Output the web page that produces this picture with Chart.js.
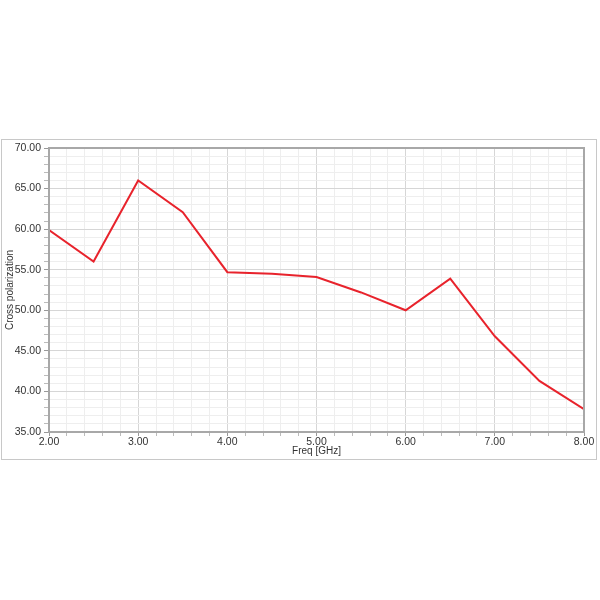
<!DOCTYPE html>
<html>
<head>
<meta charset="utf-8">
<script src="https://cdn.jsdelivr.net/npm/chart.js@4.4.0/dist/chart.umd.min.js"></script>
<style>
  html, body { margin: 0; padding: 0; background: #fff; }
  #wrap { position: relative; width: 600px; height: 600px; }
  canvas { position: absolute; left: 0; top: 0; }
</style>
</head>
<body>
<div id="wrap"><canvas id="c" width="600" height="600"></canvas></div>
<script>
const freqs = [2.0, 2.5, 3.0, 3.5, 4.0, 4.5, 5.0, 5.5, 6.0, 6.5, 7.0, 7.5, 8.0];
const crossPol = [59.9, 56.0, 66.0, 62.1, 54.7, 54.5, 54.1, 52.2, 50.0, 53.9, 46.8, 41.3, 37.8];
const xTitle = 'Freq [GHz]';
const yTitle = 'Cross polarization';

const points = freqs.map((f, i) => ({ x: f, y: crossPol[i] }));
const isInt = (v, step) => Math.abs(v / step - Math.round(v / step)) < 1e-6;

const framePlugin = {
  id: 'frame',
  beforeDraw(chart) {
    const ctx = chart.ctx;
    ctx.save();
    ctx.fillStyle = '#ffffff';
    ctx.fillRect(0, 0, chart.width, chart.height);
    ctx.strokeStyle = '#c8c8c8';
    ctx.lineWidth = 1;
    ctx.strokeRect(1.5, 139.5, 595, 320);
    ctx.restore();
  },
  afterDatasetsDraw(chart) {
    const a = chart.chartArea;
    const ctx = chart.ctx;
    ctx.save();
    ctx.strokeStyle = '#a8a8a8';
    ctx.lineWidth = 2;
    ctx.strokeRect(a.left, a.top, a.right - a.left, a.bottom - a.top);
    ctx.restore();
  }
};

new Chart(document.getElementById('c'), {
  type: 'line',
  data: {
    datasets: [{
      data: points,
      borderColor: '#e8232c',
      borderWidth: 2,
      pointRadius: 0,
      tension: 0,
      fill: false
    }]
  },
  options: {
    responsive: false,
    animation: false,
    layout: { padding: { left: 4, right: 16, top: 148, bottom: 143 } },
    plugins: { legend: { display: false }, tooltip: { enabled: false } },
    scales: {
      x: {
        type: 'linear',
        min: 2, max: 8,
        afterFit(s) { s.height = 25; },
        ticks: {
          stepSize: 0.2,
          autoSkip: false,
          maxRotation: 0,
          padding: 0,
          color: '#333',
          font: { family: 'Liberation Sans, Arial, sans-serif', size: 10.5 },
          callback: (v) => isInt(v, 1) ? Number(v).toFixed(2) : ''
        },
        grid: {
          color: (c) => isInt(c.tick.value, 1) ? '#d6d6d6' : '#eeeeee',
          tickColor: (c) => isInt(c.tick.value, 1) ? '#999' : '#bbb',
          tickLength: 4
        },
        border: { display: false },
        title: {
          display: true, text: xTitle, color: '#333',
          font: { family: 'Liberation Sans, Arial, sans-serif', size: 10 },
          padding: 0
        }
      },
      y: {
        min: 35, max: 70,
        afterFit(s) { s.width = 45; },
        ticks: {
          stepSize: 1,
          autoSkip: false,
          padding: 3,
          color: '#333',
          font: { family: 'Liberation Sans, Arial, sans-serif', size: 10.5 },
          callback: (v) => isInt(v, 5) ? Number(v).toFixed(2) : ''
        },
        grid: {
          color: (c) => isInt(c.tick.value, 5) ? '#d6d6d6' : '#eeeeee',
          tickColor: (c) => isInt(c.tick.value, 5) ? '#999' : '#bbb',
          tickLength: 5
        },
        border: { display: false },
        title: {
          display: true, text: yTitle, color: '#333',
          font: { family: 'Liberation Sans, Arial, sans-serif', size: 10 },
          padding: 0
        }
      }
    }
  },
  plugins: [framePlugin]
});
</script>
</body>
</html>
